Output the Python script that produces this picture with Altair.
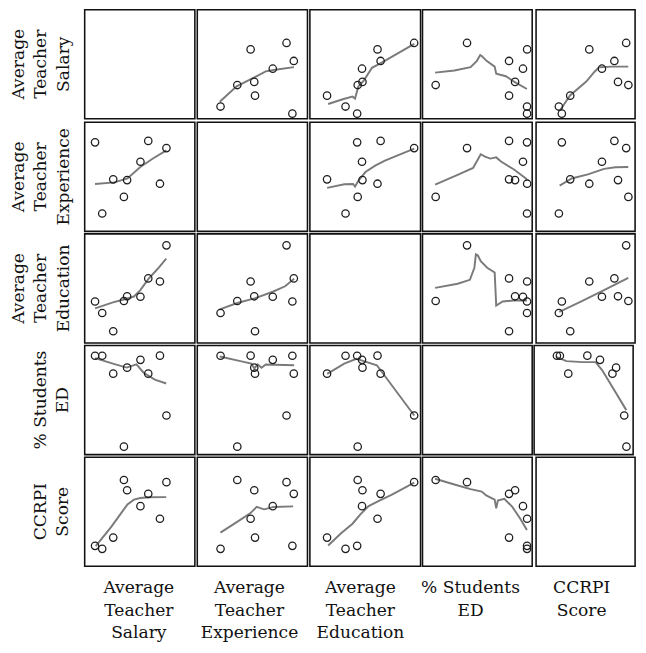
import altair as alt
import pandas as pd

# ---- variables and labels -------------------------------------------------
var_names = ["Salary", "Experience", "Education", "StudentsED", "CCRPI"]
var_titles = [
    ["Average", "Teacher", "Salary"],
    ["Average", "Teacher", "Experience"],
    ["Average", "Teacher", "Education"],
    ["% Students", "ED"],
    ["CCRPI", "Score"],
]

# ---- nine schools, values on a 0-100 index --------------------------------
salary      = [4.7, 11.2, 21.2, 30.9, 33.8, 45.9, 53.0, 63.6, 69.5]
experience  = [81.6, 16.4, 47.7, 31.6, 47.0, 63.8, 82.9, 43.7, 76.3]
education   = [38.0, 27.5, 10.8, 38.5, 42.8, 42.4, 59.2, 56.4, 89.5]
students_ed = [90.6, 90.6, 74.2, 7.3, 79.7, 86.9, 74.2, 90.7, 35.9]
ccrpi       = [18.7, 16.0, 26.3, 79.1, 69.7, 55.1, 66.4, 43.6, 77.1]

# ---- fit lines (loess), vertices: row var vs col var -
fit_0_1_x = [15.7, 31.0, 47.1, 57.4, 66.2, 83.0]
fit_0_1_y = [15.6, 29.7, 37.9, 43.4, 44.9, 47.3]
fit_0_2_x = [11.8, 25.0, 33.8, 36.1, 39.1, 44.0, 51.4, 60.2, 89.6]
fit_0_2_y = [13.5, 17.9, 20.3, 18.5, 29.7, 35.0, 46.7, 51.4, 68.7]
fit_0_3_x = [6.8, 24.4, 39.1, 44.9, 47.9, 49.3, 53.7, 61.1, 62.5, 71.3, 78.7, 90.5]
fit_0_3_y = [42.3, 44.3, 47.3, 53.1, 58.4, 57.5, 53.1, 47.8, 41.4, 39.0, 34.1, 27.3]
fit_0_4_x = [17.3, 26.1, 40.9, 48.2, 52.6, 64.3, 79.0]
fit_0_4_y = [8.0, 21.4, 34.1, 42.9, 47.3, 47.8, 47.8]
fit_1_0_x = [4.7, 22.3, 34.1, 45.8, 57.6, 69.5]
fit_1_0_y = [43.4, 44.9, 48.5, 59.0, 67.0, 74.3]
fit_1_2_x = [10.9, 26.4, 34.3, 36.1, 39.1, 45.5, 54.3, 63.1, 89.6]
fit_1_2_y = [39.9, 43.2, 43.4, 41.1, 46.4, 54.4, 60.2, 64.9, 75.8]
fit_1_3_x = [6.8, 27.3, 41.4, 45.5, 48.4, 52.3, 57.2, 62.5, 66.9, 78.7, 90.5]
fit_1_3_y = [42.9, 51.7, 58.1, 65.5, 70.7, 68.5, 66.7, 67.8, 64.0, 56.7, 47.8]
fit_1_4_x = [16.7, 27.6, 42.3, 51.1, 57.0, 67.3, 79.0]
fit_1_4_y = [42.0, 48.5, 52.2, 55.2, 57.3, 58.8, 59.0]
fit_2_0_x = [4.7, 20.9, 32.6, 40.0, 45.8, 53.2, 62.0, 69.3]
fit_2_0_y = [31.7, 37.3, 40.3, 42.6, 48.5, 58.8, 68.5, 77.3]
fit_2_1_x = [15.7, 31.6, 48.0, 63.8, 75.0, 83.2]
fit_2_1_y = [30.8, 36.7, 41.1, 47.0, 52.0, 58.8]
fit_2_3_x = [6.8, 27.3, 38.5, 42.6, 44.0, 45.8, 48.4, 54.3, 61.1, 62.5, 68.4, 78.7, 90.5]
fit_2_3_y = [50.5, 54.3, 57.9, 69.0, 81.3, 80.2, 74.9, 69.0, 64.6, 34.4, 38.1, 39.0, 39.0]
fit_2_4_x = [16.4, 36.4, 57.0, 79.0]
fit_2_4_y = [28.5, 38.1, 48.5, 59.6]
fit_3_0_x = [4.7, 20.9, 33.4, 42.3, 48.8, 59.0, 69.3]
fit_3_0_y = [88.4, 83.4, 79.8, 82.8, 75.1, 68.7, 65.2]
fit_3_1_x = [15.7, 35.4, 44.2, 47.1, 50.1, 53.6, 57.4, 83.2]
fit_3_1_y = [89.9, 85.5, 83.4, 79.0, 82.8, 79.6, 82.6, 81.9]
fit_3_2_x = [10.9, 26.4, 37.3, 44.0, 55.8, 60.2, 89.6]
fit_3_2_y = [74.0, 83.4, 87.8, 85.7, 81.9, 76.0, 35.9]
fit_3_4_x = [15.8, 24.6, 39.4, 51.1, 57.0, 65.8, 79.0]
fit_3_4_y = [89.3, 85.7, 84.8, 84.8, 77.5, 62.8, 40.8]
fit_4_0_x = [5.3, 19.4, 34.1, 40.0, 45.8, 53.2, 69.3]
fit_4_0_y = [18.5, 36.1, 56.7, 61.1, 62.6, 63.2, 63.4]
fit_4_1_x = [16.3, 32.5, 43.3, 49.2, 55.9, 64.7, 82.3]
fit_4_1_y = [30.8, 41.4, 48.5, 54.4, 52.2, 54.4, 54.9]
fit_4_2_x = [11.8, 23.5, 33.8, 41.1, 48.4, 57.2, 69.0, 89.6]
fit_4_2_y = [19.1, 30.2, 39.0, 47.8, 55.2, 59.6, 65.5, 76.7]
fit_4_3_x = [6.8, 24.4, 39.1, 49.3, 53.4, 61.1, 62.5, 64.0, 69.9, 77.2, 84.6, 90.5]
fit_4_3_y = [80.2, 74.9, 70.7, 68.5, 64.9, 61.1, 53.1, 60.2, 61.9, 54.4, 43.4, 33.2]

# ---- build tables --------------------------------------------------------
pts = pd.DataFrame({
    "Salary": salary, "Experience": experience, "Education": education,
    "StudentsED": students_ed, "CCRPI": ccrpi,
})

g = globals()
line_rows = []
for r in range(5):
    for c in range(5):
        if r == c:
            continue
        xs = g[f"fit_{r}_{c}_x"]
        ys = g[f"fit_{r}_{c}_y"]
        for i, (xv, yv) in enumerate(zip(xs, ys)):
            line_rows.append({"r": r, "c": c, "i": i, "x": xv, "y": yv})
lines_df = pd.DataFrame(line_rows)

col_widths = [113.5, 113.5, 114, 113, 102]
row_height = 112.4
label_w = 78
label_h = 74
x_domains = [[-4.7, 95.3], [-4.7, 95.3], [-4.7, 95.3], [-4.7, 95.3], [-4.7, 85.2]]
y_domain = [0, 100]

FONT = "DejaVu Serif"
FSIZE = 17.6
LH = 23.3
TXT = "#111111"

cell_view = alt.ViewBackground(stroke="#111111", strokeWidth=1.6, strokeOpacity=1)
blank_view = alt.ViewBackground(strokeOpacity=0)


def panel(r, c):
    xs = alt.X("x:Q", axis=None,
               scale=alt.Scale(domain=x_domains[c], nice=False, zero=False))
    ys = alt.Y("y:Q", axis=None,
               scale=alt.Scale(domain=y_domain, nice=False, zero=False))
    base_pts = alt.Chart(pts).transform_calculate(
        x=f"datum['{var_names[c]}']", y=f"datum['{var_names[r]}']"
    )
    if r == c:
        ch = base_pts.mark_point(opacity=0).encode(x=xs, y=ys)
    else:
        line = alt.Chart(lines_df).transform_filter(
            f"datum.r == {r} && datum.c == {c}"
        ).mark_line(color="#7a7a7a", strokeWidth=2).encode(x=xs, y=ys, order="i:Q")
        dots = base_pts.mark_point(
            shape="circle", filled=False, size=58, color="#1e1e1e",
            strokeWidth=1.3, opacity=1
        ).encode(x=xs, y=ys)
        ch = alt.layer(line, dots)
    return ch.properties(width=col_widths[c], height=row_height, view=cell_view)


def row_label(r):
    lines = var_titles[r]
    df = pd.DataFrame({"t": ["\n".join(lines)]})
    first_baseline = 16 if len(lines) == 3 else 39
    return alt.Chart(df).mark_text(
        angle=270, align="center", baseline="alphabetic", lineBreak="\n",
        font=FONT, fontSize=FSIZE, lineHeight=LH, color=TXT
    ).encode(
        text="t:N", x=alt.value(first_baseline), y=alt.value(row_height / 2)
    ).properties(width=label_w, height=row_height, view=blank_view)


def col_label(c):
    df = pd.DataFrame({"t": ["\n".join(var_titles[c])]})
    cx = 58 if c == 4 else col_widths[c] / 2
    return alt.Chart(df).mark_text(
        align="center", baseline="alphabetic", lineBreak="\n",
        font=FONT, fontSize=FSIZE, lineHeight=LH, color=TXT
    ).encode(
        text="t:N", x=alt.value(cx), y=alt.value(26)
    ).properties(width=col_widths[c], height=label_h, view=blank_view)


corner = alt.Chart(pd.DataFrame({"t": [" "]})).mark_text(fontSize=1).encode(
    text="t:N", x=alt.value(40), y=alt.value(40)
).properties(width=label_w, height=label_h, view=blank_view)

rows = [alt.hconcat(row_label(r), *[panel(r, c) for c in range(5)], spacing=0)
        for r in range(5)]
rows.append(alt.hconcat(corner, *[col_label(c) for c in range(5)], spacing=0))

chart = alt.vconcat(*rows, spacing=0).configure_view(
    strokeOpacity=0
).properties(
    padding={"left": 0, "top": -9, "right": 2, "bottom": 0}
)

chart.save("out.html", embed_options={"renderer": "svg", "actions": False})
